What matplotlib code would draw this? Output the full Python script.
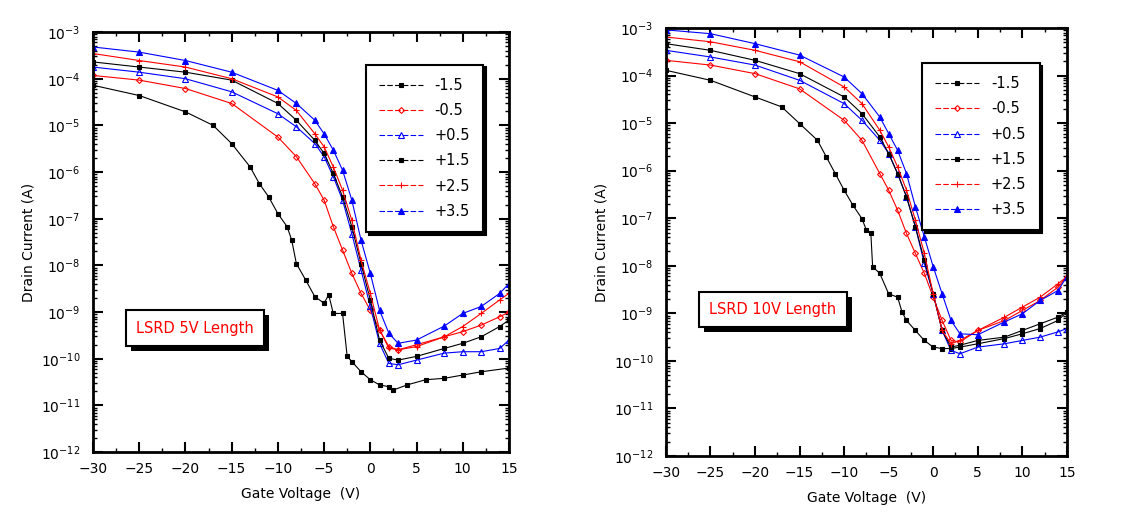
import numpy as np
import matplotlib
matplotlib.use("Agg")
import matplotlib.pyplot as plt
from matplotlib.patches import Rectangle
from matplotlib.ticker import MultipleLocator, LogLocator, NullFormatter

plt.rcParams['font.family'] = ['DejaVu Sans']

# gate voltage grid (V)
vg = [-30, -25, -20, -15, -10, -8, -6, -5, -4, -3, -2, -1, 0, 1, 2, 3, 5, 8, 10, 12, 14, 15]

# ---- left panel: LSRD 5V, log10(drain current)
vg_5v_low = [-30, -25, -20, -17, -15, -13, -12, -11, -10, -9, -8.5, -8, -7, -6, -5, -4.5,
             -4, -3, -2.5, -2, -1, 0, 1, 2, 2.5, 4, 6, 8, 10, 12, 15]
i5_m15 = [-4.14, -4.36, -4.71, -5.0, -5.39, -5.89, -6.25, -6.53, -6.89, -7.17, -7.46, -7.96,
          -8.31, -8.67, -8.81, -8.63, -9.03, -9.03, -9.95, -10.06, -10.28, -10.45, -10.56,
          -10.6, -10.67, -10.56, -10.45, -10.42, -10.35, -10.28, -10.2]
i5_m05 = [-3.93, -4.03, -4.21, -4.53, -5.25, -5.67, -6.25, -6.6, -7.17, -7.67, -8.17, -8.6,
          -8.96, -9.38, -9.74, -9.81, -9.7, -9.53, -9.42, -9.28, -9.1, -9.0]
i5_p05 = [-3.75, -3.86, -4.0, -4.28, -4.75, -5.03, -5.39, -5.67, -6.1, -6.6, -7.32, -8.1,
          -8.88, -9.67, -10.1, -10.13, -10.03, -9.88, -9.85, -9.85, -9.78, -9.6]
i5_p15 = [-3.64, -3.75, -3.86, -4.03, -4.53, -4.89, -5.32, -5.6, -6.03, -6.53, -7.17, -7.96,
          -8.74, -9.6, -9.99, -10.03, -9.95, -9.78, -9.67, -9.53, -9.31, -9.17]
i5_p25 = [-3.46, -3.61, -3.75, -4.0, -4.39, -4.68, -5.18, -5.46, -5.89, -6.39, -7.03, -7.89,
          -8.6, -9.38, -9.77, -9.81, -9.74, -9.53, -9.31, -9.03, -8.74, -8.6]
i5_p35 = [-3.32, -3.43, -3.61, -3.86, -4.25, -4.53, -4.89, -5.18, -5.53, -5.96, -6.6, -7.46,
          -8.17, -8.96, -9.45, -9.67, -9.6, -9.3, -9.03, -8.88, -8.6, -8.39]

# ---- right panel: LSRD 10V
vg_10v_low = [-30, -25, -20, -17, -15, -13, -12, -11, -10, -9, -8, -7.5, -7, -6.8, -6, -5,
              -4, -3.5, -3, -2, -1, 0, 1, 2, 3, 5, 8, 10, 12, 14, 15]
i10_m15 = [-3.89, -4.1, -4.45, -4.66, -5.01, -5.36, -5.71, -6.06, -6.41, -6.73, -7.01, -7.25,
           -7.32, -8.02, -8.16, -8.59, -8.66, -8.97, -9.15, -9.36, -9.57, -9.71, -9.74,
           -9.74, -9.71, -9.64, -9.53, -9.43, -9.32, -9.15, -8.97]
i10_m05 = [-3.68, -3.78, -3.96, -4.28, -4.94, -5.36, -6.06, -6.41, -6.83, -7.32, -7.74, -8.16,
           -8.66, -9.15, -9.57, -9.6, -9.36, -9.15, -8.94, -8.73, -8.45, -8.23]
i10_p05 = [-3.47, -3.61, -3.78, -4.1, -4.59, -4.94, -5.36, -5.64, -6.06, -6.55, -7.18, -7.95,
           -8.59, -9.36, -9.78, -9.85, -9.71, -9.64, -9.57, -9.5, -9.39, -9.32]
i10_p15 = [-3.33, -3.47, -3.68, -3.96, -4.45, -4.8, -5.29, -5.64, -6.06, -6.55, -7.18, -7.88,
           -8.59, -9.36, -9.71, -9.67, -9.57, -9.5, -9.36, -9.22, -9.08, -8.97]
i10_p25 = [-3.19, -3.29, -3.47, -3.71, -4.24, -4.59, -5.15, -5.5, -5.92, -6.41, -7.04, -7.74,
           -8.59, -9.36, -9.64, -9.57, -9.36, -9.08, -8.87, -8.66, -8.38, -8.23]
i10_p35 = [-3.04, -3.12, -3.33, -3.57, -4.03, -4.38, -4.87, -5.22, -5.57, -6.06, -6.76, -7.39,
           -8.02, -8.59, -9.15, -9.43, -9.45, -9.18, -9.01, -8.73, -8.52, -8.23]

labels = ['-1.5', '-0.5', '+0.5', '+1.5', '+2.5', '+3.5']
styles = [
    dict(color='black', marker='s', ms=3.5, mfc='black'),
    dict(color='red', marker='D', ms=3, mfc='none'),
    dict(color='blue', marker='^', ms=4, mfc='none'),
    dict(color='black', marker='s', ms=2.5, mfc='black'),
    dict(color='red', marker='+', ms=5, mfc='red'),
    dict(color='blue', marker='^', ms=4, mfc='blue'),
]

fig = plt.figure(figsize=(11.23, 5.22), dpi=100)
label_boxes = []


def draw_panel(rect, low_x, curves, title, box_xy, leg_anchor):
    ax = fig.add_axes(rect)
    xs = [low_x] + [vg] * 5
    for x, y, lab, st in zip(xs, curves, labels, styles):
        ax.plot(x, 10.0 ** np.array(y), lw=0.8, mew=0.8, label=lab, **st)
    ax.set_yscale('log')
    ax.set_xlim(-30, 15)
    ax.set_ylim(1e-12, 1e-3)
    ax.xaxis.set_major_locator(MultipleLocator(5))
    ax.xaxis.set_minor_locator(MultipleLocator(2.5))
    ax.yaxis.set_major_locator(LogLocator(base=10, numticks=20))
    ax.yaxis.set_minor_locator(LogLocator(base=10, subs=np.arange(2, 10), numticks=20))
    ax.yaxis.set_minor_formatter(NullFormatter())
    ax.tick_params(which='both', direction='in', top=True, right=True, labelsize=10)
    ax.tick_params(which='major', length=7, width=1.5)
    ax.tick_params(which='minor', length=3, width=1)
    ax.tick_params(axis='y', which='major', pad=9)
    ax.tick_params(axis='x', which='major', pad=7)
    for s in ax.spines.values():
        s.set_linewidth(2)
    ax.set_xlabel('Gate Voltage  (V)', fontsize=10, labelpad=8)
    ax.set_ylabel('Drain Current (A)', fontsize=10)

    leg = ax.legend(loc='upper right', bbox_to_anchor=leg_anchor, fancybox=False,
                    shadow={'color': 'black', 'alpha': 1}, edgecolor='black', framealpha=1,
                    fontsize=10.5, handlelength=3, labelspacing=0.7, borderpad=0.9,
                    handletextpad=0.8)
    leg.get_frame().set_linewidth(1.5)
    for h in leg.get_lines():
        h.set_linestyle((0, (5, 2)))

    t = ax.text(box_xy[0], box_xy[1], title, transform=ax.transAxes, ha='center',
                va='center', fontsize=10.5, color='red', zorder=5,
                bbox=dict(boxstyle='square,pad=0.7', fc='white', ec='black', lw=1.5))
    label_boxes.append(t)
    return ax


draw_panel([0.0828, 0.134, 0.3704, 0.8046], vg_5v_low,
           [i5_m15, i5_m05, i5_p05, i5_p15, i5_p25, i5_p35],
           'LSRD 5V Length', (0.246, 0.295), (0.955, 0.94))
draw_panel([0.593, 0.1264, 0.357, 0.82], vg_10v_low,
           [i10_m15, i10_m05, i10_p05, i10_p15, i10_p25, i10_p35],
           'LSRD 10V Length', (0.267, 0.342), (0.95, 0.935))

# drop shadows behind the label boxes
fig.canvas.draw()
r = fig.canvas.get_renderer()
for t in label_boxes:
    ax = t.axes
    bb = t.get_bbox_patch().get_window_extent(r)
    (x0, y0), (x1, y1) = ax.transAxes.inverted().transform([(bb.x0 + 5, bb.y0 - 5),
                                                            (bb.x1 + 5, bb.y1 - 5)])
    ax.add_patch(Rectangle((x0, y0), x1 - x0, y1 - y0, transform=ax.transAxes,
                           fc='black', ec='none', zorder=4))

fig.savefig('out.png', dpi=100)
